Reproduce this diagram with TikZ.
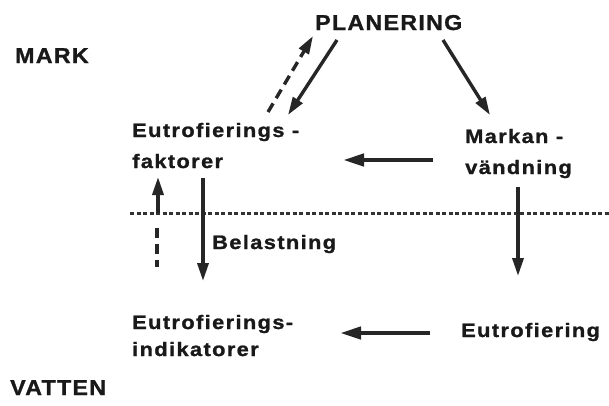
\documentclass[tikz,border=0pt]{standalone}
\usepackage{fontspec}
\setmainfont{Liberation Sans}
\newfontfamily\labfont[FakeStretch=1.12,LetterSpace=7,FakeBold=1.2]{Liberation Sans Bold}
\newfontfamily\capfont[FakeStretch=1.08,LetterSpace=6,FakeBold=1.2]{Liberation Sans Bold}
\usetikzlibrary{arrows.meta}
\begin{document}
\begin{tikzpicture}[x=1pt,y=-1pt,
  lbl/.style={font=\labfont\fontsize{19.5}{31}\selectfont, inner sep=0pt, anchor=base west, align=left, text=black!90},
  big/.style={font=\capfont\fontsize{21.5}{24}\selectfont, inner sep=0pt, anchor=base west, text=black!90},
  arr/.style={line width=3.4pt, draw=black!85, -{Triangle[length=18pt,width=11pt]}},
  harr/.style={line width=4.2pt, draw=black!85, -{Triangle[length=21pt,width=12pt]}},
  dash arr/.style={arr, dash pattern=on 10pt off 6pt},
  boundary/.style={line width=3pt, draw=black!80, dash pattern=on 4pt off 2.5pt}]
\useasboundingbox (0,0) rectangle (609,405);

% texts (multi-line nodes: base = baseline of last line)
\node[big] (plan) at (315,30) {PLANERING};
\node[big] (mark) at (15,63) {MARK};
\node[big] (vatten) at (10,395) {VATTEN};
\node[lbl] (efak) at (132,168) {Eutrofierings -\\faktorer};
\node[lbl] (mv) at (465,174) {Markan -\\vändning};
\node[lbl] (bel) at (212,249) {Belastning};
\node[lbl] (eind) at (132,356) {Eutrofierings-\\[-4pt]indikatorer};
\node[lbl] (eut) at (461,337) {Eutrofiering};

% coordinates
\coordinate (pd1) at (268,112);
\coordinate (pd2) at (313,36);
\coordinate (ps1) at (337,40);
\coordinate (ps2) at (288,115);
\coordinate (pr1) at (443,40);
\coordinate (pr2) at (490,115);
\coordinate (h1a) at (433,160);
\coordinate (h1b) at (343,160);
\coordinate (h2a) at (430,333);
\coordinate (h2b) at (340,333);
\coordinate (up1) at (158,213);
\coordinate (up2) at (158,177);
\coordinate (ud1) at (157,228);
\coordinate (ud2) at (157,267);
\coordinate (dn1) at (203,178);
\coordinate (dn2) at (203,281);
\coordinate (rd1) at (518,187);
\coordinate (rd2) at (518,276);
\coordinate (bl) at (130,213);
\coordinate (br) at (609,213);

% boundary
\draw[boundary] (bl) -- (br);

% arrows
\draw[dash arr] (pd1) -- (pd2);
\draw[arr] (ps1) -- (ps2);
\draw[arr] (pr1) -- (pr2);
\draw[harr] (h1a) -- (h1b);
\draw[harr] (h2a) -- (h2b);
\draw[arr] (up1) -- (up2);
\draw[line width=3.4pt, draw=black!85, dash pattern=on 10pt off 6pt] (ud1) -- (ud2);
\draw[arr] (dn1) -- (dn2);
\draw[arr] (rd1) -- (rd2);
\end{tikzpicture}
\end{document}
